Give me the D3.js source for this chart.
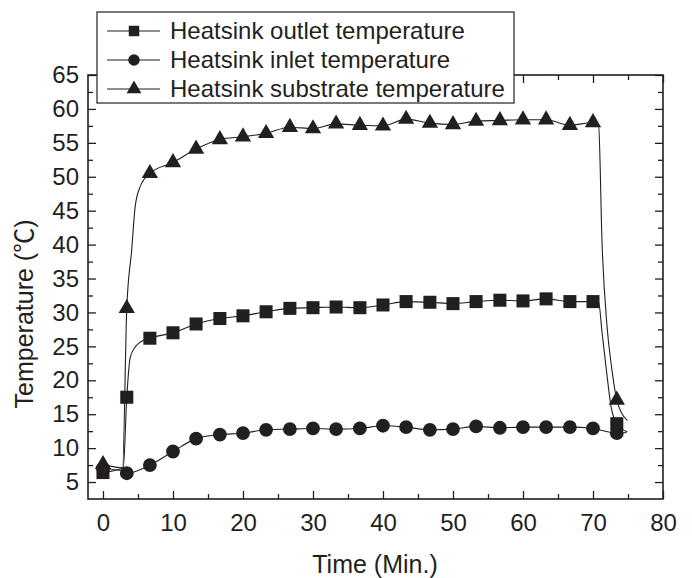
<!DOCTYPE html>
<html>
<head>
<meta charset="utf-8">
<script src="https://cdn.jsdelivr.net/npm/d3@7"></script>
<style>
body { margin: 0; background: #fff; }
text { font-family: "Liberation Sans", Arial, sans-serif; fill: #231f20; }
</style>
</head>
<body>
<svg id="chart" width="692" height="578"></svg>
<script>
// marker times (min)
var times = [0, 3.4, 6.7, 10, 13.3, 16.7, 20, 23.3, 26.7, 30, 33.3, 36.7, 40, 43.3, 46.7, 50, 53.3, 56.7, 60, 63.3, 66.7, 70, 73.4];

var outlet = [6.4, 17.5, 26.2, 27.0, 28.3, 29.1, 29.5, 30.1, 30.6, 30.7, 30.8, 30.7, 31.1, 31.6, 31.5, 31.3, 31.6, 31.8, 31.7, 32.0, 31.6, 31.6, 13.6];
var inlet = [7.0, 6.3, 7.5, 9.5, 11.4, 12.0, 12.2, 12.7, 12.8, 12.9, 12.8, 12.9, 13.3, 13.1, 12.7, 12.8, 13.2, 13.0, 13.1, 13.1, 13.1, 12.9, 12.2];
var substrate = [7.6, 30.6, 50.5, 52.1, 54.1, 55.5, 55.9, 56.4, 57.3, 57.1, 57.8, 57.6, 57.5, 58.5, 57.9, 57.7, 58.2, 58.3, 58.4, 58.4, 57.6, 58.0, 17.1];

var outletTrace = [[2.9, 7.1], [3.9, 23.4], [4.6, 24.9], [5.3, 25.6], [70.8, 31.5], [71.3, 27], [71.9, 21.6], [72.6, 16], [74.9, 12.4]];
var inletTrace = [[2.9, 6.6], [74.8, 12.3]];
var substrateTrace = [[2.8, 7.1], [4.1, 39.2], [4.6, 45.6], [5.3, 48.5], [70.8, 57.6], [71.3, 40], [72.0, 28], [72.7, 21.6], [74.9, 14.1]];

var seriesNames = ["Heatsink outlet temperature", "Heatsink inlet temperature", "Heatsink substrate temperature"];

var xMajor = [0, 10, 20, 30, 40, 50, 60, 70, 80];
var xMinor = [5, 15, 25, 35, 45, 55, 65, 75];
var yMajor = [5, 10, 15, 20, 25, 30, 35, 40, 45, 50, 55, 60, 65];
var yMinor = [7.5, 12.5, 17.5, 22.5, 27.5, 32.5, 37.5, 42.5, 47.5, 52.5, 57.5, 62.5];

var ink = "#231f20";
var svg = d3.select("#chart");

var x = d3.scaleLinear().domain([-2.14, 80]).range([88, 663]);
var y = d3.scaleLinear().domain([2.5, 65]).range([499, 75]);

function withTrace(vals, trace) {
    var pts = times.map(function(t, i) { return [t, vals[i]]; }).concat(trace);
    return pts.sort(function(a, b) { return a[0] - b[0]; });
}

var series = [
    {name: seriesNames[0], vals: outlet, trace: outletTrace, sym: d3.symbolSquare, size: 170, lsize: 110},
    {name: seriesNames[1], vals: inlet, trace: inletTrace, sym: d3.symbolCircle, size: 150, lsize: 105},
    {name: seriesNames[2], vals: substrate, trace: substrateTrace, sym: d3.symbolTriangle, size: 115, lsize: 95}
];

var line = d3.line()
    .x(function(d) { return x(d[0]); })
    .y(function(d) { return y(d[1]); })
    .curve(d3.curveMonotoneX);

var plot = svg.append("g");

series.forEach(function(s) {
    plot.append("path")
        .datum(withTrace(s.vals, s.trace))
        .attr("d", line)
        .style("fill", "none")
        .style("stroke", ink)
        .style("stroke-width", "1.1px");
});

series.forEach(function(s) {
    plot.selectAll(null)
        .data(times.map(function(t, i) { return [t, s.vals[i]]; }))
        .join("path")
        .attr("d", d3.symbol().type(s.sym).size(s.size))
        .attr("transform", function(d) { return "translate(" + x(d[0]) + "," + y(d[1]) + ")"; })
        .style("fill", ink);
});

// axes, ticks inside on all four sides
function styleAxis(g) {
    g.select(".domain").remove();
    g.selectAll("line").style("stroke", ink).style("stroke-width", "1.3px");
    g.selectAll("text").style("font-size", "24px").style("fill", ink);
}

svg.append("g").attr("transform", "translate(0,499)")
    .call(d3.axisBottom(x).tickValues(xMajor).tickSize(-8).tickPadding(15).tickFormat(d3.format("d")))
    .call(styleAxis);
svg.append("g").attr("transform", "translate(0,499)")
    .call(d3.axisBottom(x).tickValues(xMinor).tickSize(-5).tickFormat(""))
    .call(styleAxis);
svg.append("g").attr("transform", "translate(0,75)")
    .call(d3.axisTop(x).tickValues(xMajor).tickSize(-8).tickFormat(""))
    .call(styleAxis);
svg.append("g").attr("transform", "translate(0,75)")
    .call(d3.axisTop(x).tickValues(xMinor).tickSize(-5).tickFormat(""))
    .call(styleAxis);

svg.append("g").attr("transform", "translate(88,0)")
    .call(d3.axisLeft(y).tickValues(yMajor).tickSize(-8).tickPadding(9).tickFormat(d3.format("d")))
    .call(styleAxis);
svg.append("g").attr("transform", "translate(88,0)")
    .call(d3.axisLeft(y).tickValues(yMinor).tickSize(-5).tickFormat(""))
    .call(styleAxis);
svg.append("g").attr("transform", "translate(663,0)")
    .call(d3.axisRight(y).tickValues(yMajor).tickSize(-8).tickFormat(""))
    .call(styleAxis);
svg.append("g").attr("transform", "translate(663,0)")
    .call(d3.axisRight(y).tickValues(yMinor).tickSize(-5).tickFormat(""))
    .call(styleAxis);

svg.append("rect")
    .attr("x", 88).attr("y", 75).attr("width", 575).attr("height", 424)
    .style("fill", "none").style("stroke", ink).style("stroke-width", "1.6px");

// axis titles
svg.append("text")
    .attr("x", 375).attr("y", 573)
    .attr("text-anchor", "middle")
    .style("font-size", "25px")
    .text("Time (Min.)");

var ytitle = svg.append("text")
    .attr("transform", "translate(33,314) rotate(-90)")
    .attr("text-anchor", "middle")
    .style("font-size", "25px");
ytitle.append("tspan").text("Temperature (");
ytitle.append("tspan").style("font-family", "'Noto Sans CJK SC', sans-serif").text("\u2103");
ytitle.append("tspan").text(")");

// legend
var legend = svg.append("g");
legend.append("rect")
    .attr("x", 97).attr("y", 12).attr("width", 417).attr("height", 91)
    .style("fill", "#fff").style("stroke", ink).style("stroke-width", "1.2px");

var rows = legend.selectAll("g.row")
    .data(series)
    .join("g")
    .classed("row", true)
    .attr("transform", function(d, i) { return "translate(0," + (31 + i * 29) + ")"; });

rows.append("line")
    .attr("x1", 107).attr("x2", 160).attr("y1", 0).attr("y2", 0)
    .style("stroke", ink).style("stroke-width", "1.1px");
rows.append("path")
    .attr("d", function(d) { return d3.symbol().type(d.sym).size(d.lsize)(); })
    .attr("transform", "translate(134,0)")
    .style("fill", ink);
rows.append("text")
    .attr("x", 170).attr("y", 8)
    .style("font-size", "24px")
    .text(function(d) { return d.name; });
</script>
</body>
</html>
